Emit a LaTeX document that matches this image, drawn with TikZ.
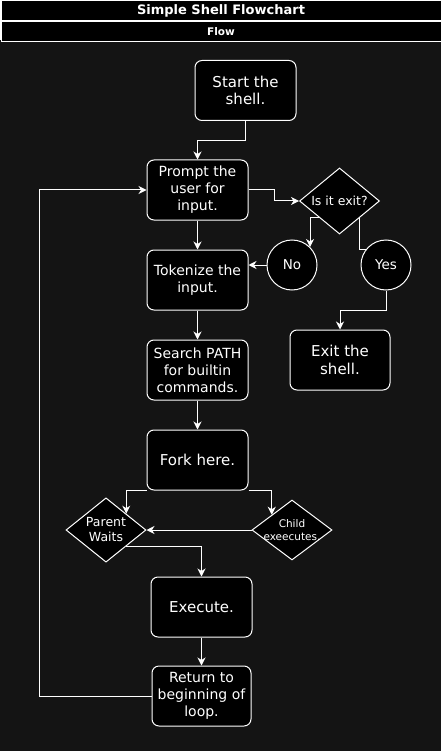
\documentclass[tikz,border=0pt]{standalone}
\usepackage{fontspec}
\setmainfont{DejaVu Sans}
\usepackage{tikz}
\usetikzlibrary{calc}
\usetikzlibrary{shapes.geometric}
\usetikzlibrary{arrows.meta}
\definecolor{poolbg}{RGB}{20,20,20}
\newcommand{\bigtext}{\fontsize{15}{17.5}\selectfont}
\newcommand{\midtext}{\fontsize{14}{17}\selectfont}
\newcommand{\smalltext}{\fontsize{12.5}{15}\selectfont}
\tikzset{
    common/.style={draw=white, fill=black, text=white, line width=1pt, align=center, inner sep=0pt},
    header/.style={common, rectangle, minimum width=440pt, minimum height=20pt},
    stepbox/.style={common, rectangle, rounded corners=7pt, minimum width=101pt, minimum height=60pt, font=\midtext},
    bigbox/.style={stepbox, font=\bigtext},
    decide/.style={common, diamond, minimum width=80pt, minimum height=60pt, font=\smalltext},
    answer/.style={common, circle, minimum size=50pt, font=\fontsize{13.5}{16}\selectfont},
    line/.style={draw=white, line width=1pt},
    flow/.style={line, -{Stealth[length=8pt, width=8pt, inset=2.5pt]}}
}
\begin{document}
\begin{tikzpicture}[x=1pt, y=-1pt]
    \useasboundingbox (0,0) rectangle (441,751);
    \fill[poolbg] (0,40) rectangle (441,751);
    \node[header, anchor=north west, font=\bfseries\fontsize{13}{15}\selectfont] (title) at (0.5,0.5) {Simple Shell Flowchart};
    \node[header, anchor=north, font=\bfseries\fontsize{10.5}{12}\selectfont] (lane) at (title.south) {Flow};

    \node[bigbox] (start) at (245.5,90.5) {Start the\\shell.};
    \node[stepbox] (prompt) at (197.5,190) {Prompt the\\user for\\input.};
    \node[stepbox] (token) at (197.5,280) {Tokenize the\\input.};
    \node[stepbox] (search) at (197.5,370) {Search PATH\\for builtin\\commands.};
    \node[bigbox] (fork) at (197.5,460) {Fork here.};
    \node[decide] (parent) at (106,530) {Parent\\Waits};
    \node[decide, inner sep=-6pt, font=\fontsize{10.5}{13}\selectfont] (child) at (292,530) {Child\\exeecutes.};
    \node[bigbox] (exec) at (201.5,607) {Execute.};
    \node[stepbox, minimum width=99pt] (ret) at (201.5,696) {Return to\\beginning of\\loop.};
    \node[decide] (exitq) at (339.5,201) {Is it exit?};
    \node[answer] (no) at (292,265) {No};
    \node[answer] (yes) at (386,265) {Yes};
    \node[bigbox, minimum width=100pt] (exitbox) at (340,360) {Exit the\\shell.};

    \draw[flow] (start.south) -- ++(0,20) -| (prompt.north);
    \draw[flow] (prompt.east) -- ++(26,0) |- (exitq.west);
    \draw[flow] (exitq.south west) -| (no.north east);
    \draw[line] (exitq.south east) |- (yes.143);
    \draw[flow] (yes.south) -- ++(0,20) -| (exitbox.north);
    \draw[flow] (no.west) -- (no.west -| token.east);
    \draw[flow] (prompt) -- (token);
    \draw[flow] (token) -- (search);
    \draw[flow] (search) -- (fork);
    \draw[flow] (fork.south west) -| (parent.north east);
    \draw[flow] (fork.south east) -| (child.north west);
    \draw[flow] (child.west) -- (parent.east);
    \draw[flow] (parent.south east) -| (exec.north);
    \draw[flow] (exec) -- (ret);
    \draw[flow] (ret.west) -- ++(-112,0) |- (prompt.west);
\end{tikzpicture}
\end{document}
